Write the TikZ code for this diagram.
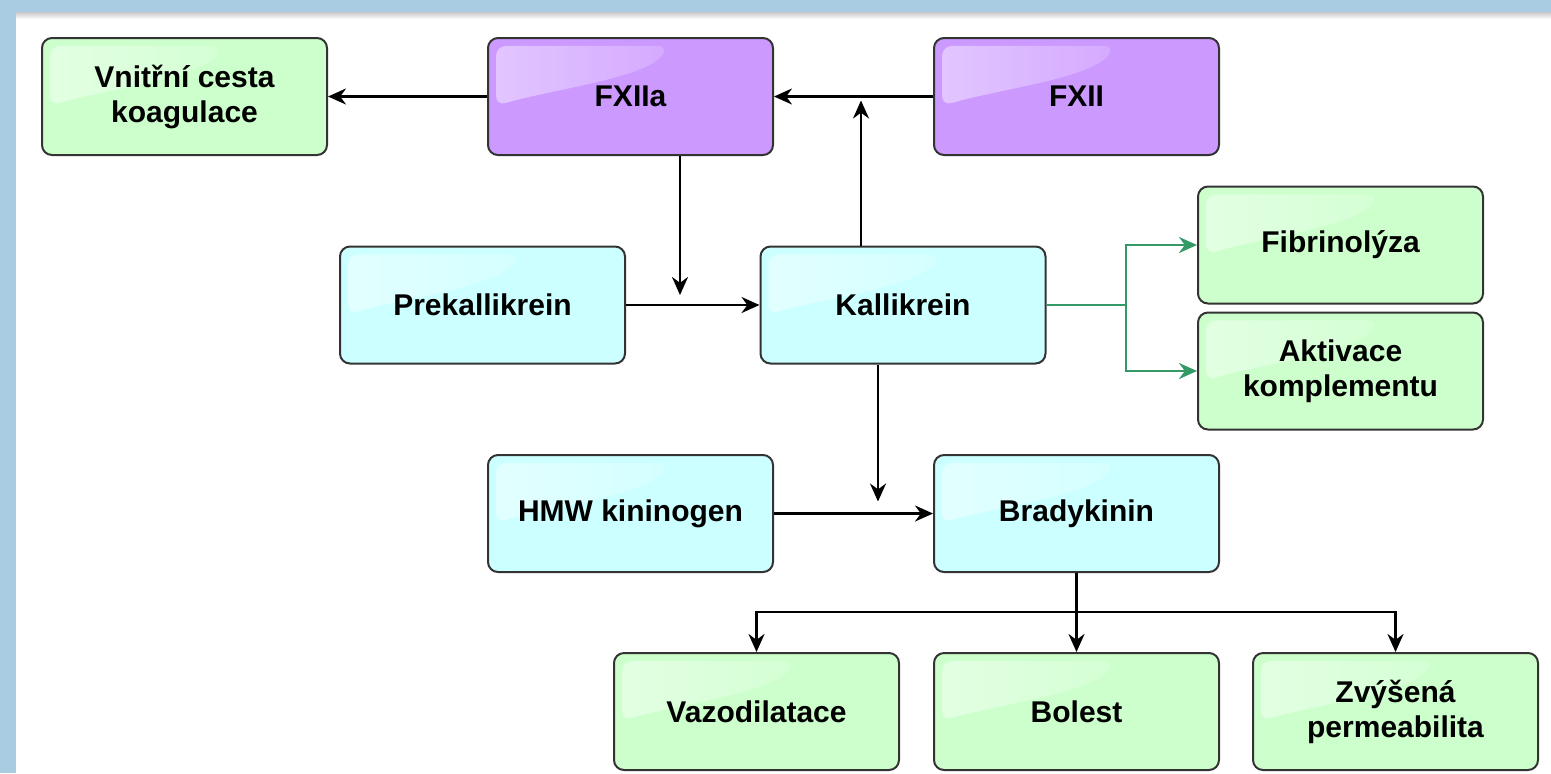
\documentclass[tikz,border=0pt]{standalone}
\usepackage{fontspec}
\setmainfont{Liberation Sans}
\usetikzlibrary{arrows.meta,fadings,calc}
\definecolor{bgblue}{HTML}{A9CCE3}
\definecolor{gfill}{HTML}{CCFFCC}
\definecolor{pfill}{HTML}{CC99FF}
\definecolor{cfill}{HTML}{CCFFFF}
\definecolor{bord}{HTML}{333333}
\definecolor{garrow}{HTML}{339966}
\tikzset{
  gloss/.style={path picture={
    \fill[white,opacity=0.45,path fading=east]
      ($(path picture bounding box.north west)+(4pt,-4pt)$)
      -- ($(path picture bounding box.north west)+(90pt,-4pt)$)
      .. controls ($(path picture bounding box.north west)+(80pt,-20pt)$) and ($(path picture bounding box.north west)+(30pt,-26pt)$) ..
      ($(path picture bounding box.north west)+(4pt,-34pt)$) -- cycle;}},
  boxbase/.style={draw=bord,line width=1pt,rounded corners=5pt,minimum width=142.5pt,minimum height=58.5pt,inner sep=0pt,align=center,font=\fontsize{15pt}{17.5pt}\selectfont\bfseries,gloss},
  gbox/.style={boxbase,fill=gfill},
  pbox/.style={boxbase,fill=pfill},
  cbox/.style={boxbase,fill=cfill},
  arr/.style={line width=1.3pt,-{Stealth[length=9pt,width=8pt]}},
  garr/.style={line width=1.3pt,draw=garrow,-{Stealth[length=9pt,width=8pt]}},
}
\begin{document}
\begin{tikzpicture}[x=0.5pt,y=-0.5pt]
\useasboundingbox (0,0) rectangle (1551,773);
\fill[bgblue] (0,0) rectangle (1551,773);
\fill[white] (16,12) rectangle (1551,773);
\shade[top color=black!22,bottom color=white] (16,12) rectangle (1551,19);

\node[gbox] (vnitrni) at (184.5,96.5) {Vnitřní cesta\\koagulace};
\node[pbox] (fxiia) at (630.5,96.5) {FXIIa};
\node[pbox] (fxii) at (1076.5,96.5) {FXII};
\node[cbox] (prek) at (482.5,305) {Prekallikrein};
\node[cbox] (kall) at (903,305) {Kallikrein};
\node[gbox] (fibr) at (1340.5,245) {Fibrinolýza};
\node[gbox] (akt) at (1340.5,371) {Aktivace\\komplementu};
\node[cbox] (hmw) at (630.5,513.5) {HMW kininogen};
\node[cbox] (brady) at (1076.5,513.5) {Bradykinin};
\node[gbox] (vazo) at (756.5,711.5) {Vazodilatace};
\node[gbox] (bolest) at (1076.5,711.5) {Bolest};
\node[gbox] (zvys) at (1395.5,711.5) {Zvýšená\\permeabilita};

\coordinate (j1) at (861,96.5);
\coordinate (j2) at (680,305);
\coordinate (j3) at (1126,305);
\coordinate (j4) at (878,513.5);
\coordinate (j5) at (1076.5,612);

\draw[arr] (fxiia) -- (vnitrni);
\draw[arr] (fxii) -- (fxiia);
\draw[arr,shorten >=2pt] (kall.north -| j1) -- (j1);
\draw[arr,shorten >=5pt] (fxiia.south -| j2) -- (j2);
\draw[arr] (prek) -- (kall);
\draw[garr] (kall.east) -- (j3) |- (fibr.west);
\draw[garr] (j3) |- (akt.west);
\draw[arr,shorten >=6pt] (kall.south -| j4) -- (j4);
\draw[arr] (hmw) -- (brady);
\draw[arr] (brady.south) -- (bolest.north);
\draw[arr] (j5) -| (vazo.north);
\draw[arr] (j5) -| (zvys.north);
\end{tikzpicture}
\end{document}
